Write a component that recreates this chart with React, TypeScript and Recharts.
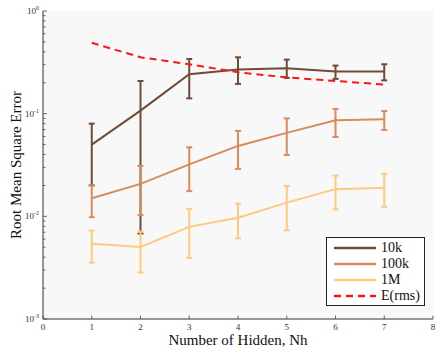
import React from 'react'
import { ComposedChart, Line, ErrorBar, XAxis, YAxis, CartesianGrid } from 'recharts'

const nh = [1, 2, 3, 4, 5, 6, 7]

const mean10k = [0.05, 0.107, 0.242, 0.27, 0.277, 0.257, 0.257]
const low10k = [0.02, 0.0068, 0.141, 0.195, 0.223, 0.218, 0.211]
const high10k = [0.08, 0.208, 0.341, 0.354, 0.336, 0.294, 0.303]

const mean100k = [0.015, 0.0207, 0.0321, 0.0485, 0.065, 0.0862, 0.088]
const low100k = [0.0098, 0.0103, 0.0176, 0.029, 0.0396, 0.0593, 0.0694]
const high100k = [0.02, 0.031, 0.047, 0.068, 0.09, 0.111, 0.106]

const mean1M = [0.0054, 0.00504, 0.0079, 0.0097, 0.0136, 0.0184, 0.019]
const low1M = [0.00354, 0.00283, 0.00394, 0.0061, 0.0073, 0.0117, 0.0124]
const high1M = [0.00726, 0.0071, 0.0118, 0.0133, 0.0198, 0.0249, 0.0259]

const rms = [0.49, 0.354, 0.303, 0.253, 0.226, 0.208, 0.192]

const xTicks = [0, 1, 2, 3, 4, 5, 6, 7, 8]
const decades = [0.001, 0.01, 0.1, 1]
const decadeLabels = ['-3', '-2', '-1', '0']
const yTicks = [
  0.001, 0.002, 0.003, 0.004, 0.005, 0.006, 0.007, 0.008, 0.009,
  0.01, 0.02, 0.03, 0.04, 0.05, 0.06, 0.07, 0.08, 0.09,
  0.1, 0.2, 0.3, 0.4, 0.5, 0.6, 0.7, 0.8, 0.9, 1,
]

const C10K = '#6f4c37'
const C100K = '#d98b5b'
const C1M = '#ffc97e'
const CRMS = '#ff1414'
const FONT = '"Liberation Serif", "DejaVu Serif", serif'

const data = nh.map((x, i) => ({
  x,
  e10k: mean10k[i],
  b10k: [mean10k[i] - low10k[i], high10k[i] - mean10k[i]],
  e100k: mean100k[i],
  b100k: [mean100k[i] - low100k[i], high100k[i] - mean100k[i]],
  e1M: mean1M[i],
  b1M: [mean1M[i] - low1M[i], high1M[i] - mean1M[i]],
  rms: rms[i],
}))

const legendItems = [
  { label: '10k', color: C10K, dash: undefined },
  { label: '100k', color: C100K, dash: undefined },
  { label: '1M', color: C1M, dash: undefined },
  { label: 'E(rms)', color: CRMS, dash: '7 5' },
]

function YTick(props: any) {
  const { x, y, payload } = props
  const idx = decades.findIndex(d => Math.abs(d - payload.value) < 1e-9)
  const major = idx >= 0
  return (
    <g>
      <line x1={x} x2={x + (major ? 4 : 2.5)} y1={y} y2={y} stroke="#444" strokeWidth={0.8} />
      {major && (
        <text x={x - 4} y={y + 3} textAnchor="end" fontFamily={FONT} fontSize={9} fill="#333">
          10<tspan dy={-4} fontSize={6}>{decadeLabels[idx]}</tspan>
        </text>
      )}
    </g>
  )
}

function XTick(props: any) {
  const { x, y, payload } = props
  return (
    <g>
      <line x1={x} x2={x} y1={y} y2={y - 3.5} stroke="#444" strokeWidth={0.8} />
      <text x={x} y={y + 11} textAnchor="middle" fontFamily={FONT} fontSize={9} fill="#333">
        {payload.value}
      </text>
    </g>
  )
}

function LegendBox() {
  return (
    <div style={{ position: 'absolute', left: 326, top: 237, width: 99, height: 69, border: '1px solid #222', background: '#fff', fontFamily: FONT, fontSize: 14, lineHeight: '16px', color: '#111', paddingTop: 2, boxSizing: 'border-box' }}>
      {legendItems.map(it => (
        <div key={it.label} style={{ display: 'flex', alignItems: 'center', height: 16 }}>
          <svg width={47} height={6} style={{ marginLeft: 7, flex: 'none' }}>
            <line x1={0} x2={42} y1={3} y2={3} stroke={it.color} strokeWidth={2.5} strokeDasharray={it.dash} />
          </svg>
          <span style={{ whiteSpace: 'nowrap' }}>{it.label}</span>
        </div>
      ))}
    </div>
  )
}

export default function App() {
  return (
    <div style={{ position: 'fixed', left: 0, top: 0, width: 437, height: 350, background: '#fff' }}>
      <ComposedChart width={437} height={350} data={data} margin={{ top: 11, right: 4, left: 0, bottom: 0 }}>
        <CartesianGrid horizontal={false} vertical={false} fill="#f8f8f8" stroke="none" />
        <XAxis
          dataKey="x"
          type="number"
          domain={[0, 8]}
          ticks={xTicks}
          interval={0}
          height={31}
          tickSize={0}
          tickMargin={0}
          tickLine={false}
          stroke="#333"
          tick={<XTick />}
          label={{
            content: () => (
              <text x={238} y={345} textAnchor="middle" fontFamily={FONT} fontSize={15} fill="#111">
                Number of Hidden, Nh
              </text>
            ),
          }}
        />
        <YAxis
          type="number"
          scale="log"
          domain={[0.001, 1]}
          ticks={yTicks}
          interval={0}
          allowDataOverflow
          width={43}
          tickSize={0}
          tickMargin={0}
          tickLine={false}
          stroke="#333"
          tick={<YTick />}
          label={{
            content: () => (
              <text x={21} y={165} transform="rotate(-90 21 165)" textAnchor="middle" fontFamily={FONT} fontSize={15} fill="#111">
                Root Mean Square Error
              </text>
            ),
          }}
        />
        <Line dataKey="e10k" stroke={C10K} strokeWidth={2} dot={false} isAnimationActive={false}>
          <ErrorBar dataKey="b10k" direction="y" width={3} stroke={C10K} strokeWidth={2} isAnimationActive={false} />
        </Line>
        <Line dataKey="e100k" stroke={C100K} strokeWidth={2} dot={false} isAnimationActive={false}>
          <ErrorBar dataKey="b100k" direction="y" width={3} stroke={C100K} strokeWidth={2} isAnimationActive={false} />
        </Line>
        <Line dataKey="e1M" stroke={C1M} strokeWidth={2} dot={false} isAnimationActive={false}>
          <ErrorBar dataKey="b1M" direction="y" width={3} stroke={C1M} strokeWidth={2} isAnimationActive={false} />
        </Line>
        <Line dataKey="rms" stroke={CRMS} strokeWidth={2} strokeDasharray="7 5" dot={false} isAnimationActive={false} />
      </ComposedChart>
      <LegendBox />
    </div>
  )
}
